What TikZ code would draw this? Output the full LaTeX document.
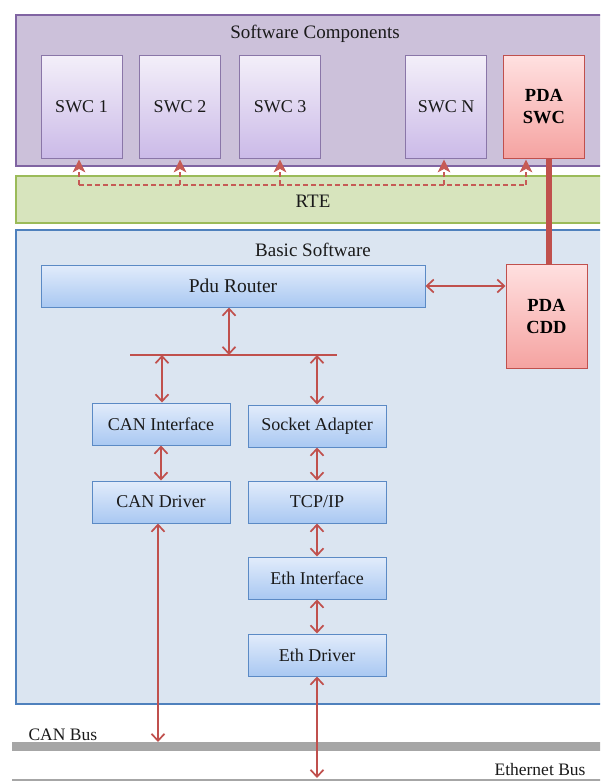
\documentclass[tikz,border=0pt]{standalone}
\usepackage{fontspec}
\setmainfont{Liberation Serif}
\usetikzlibrary{arrows.meta,shadows}

\definecolor{scfill}{HTML}{CCC1DA}
\definecolor{scline}{HTML}{8064A2}
\definecolor{swctop}{HTML}{F3EFF9}
\definecolor{swcbot}{HTML}{CBBAE8}
\definecolor{swcline}{HTML}{8A76A8}
\definecolor{rtefill}{HTML}{D7E4BD}
\definecolor{rteline}{HTML}{9BBB59}
\definecolor{bswfill}{HTML}{DBE5F1}
\definecolor{bswline}{HTML}{4F81BD}
\definecolor{boxtop}{HTML}{E2ECFB}
\definecolor{boxbot}{HTML}{A9C8F2}
\definecolor{boxline}{HTML}{5B8AC5}
\definecolor{pdatop}{HTML}{FFE0E0}
\definecolor{pdabot}{HTML}{F5A3A1}
\definecolor{pdaline}{HTML}{C0504D}
\definecolor{arrowred}{HTML}{C0504D}
\definecolor{dashred}{HTML}{C65B56}
\definecolor{busgray}{HTML}{A6A6A6}
\definecolor{textdark}{HTML}{1A1A1A}

\tikzset{
  txt/.style={font=\fontsize{18}{21}\selectfont, text=textdark},
  headtxt/.style={font=\fontsize{19}{22}\selectfont, text=textdark},
  layer/.style={draw, line width=1.6pt, inner sep=0pt},
  swcbox/.style={draw=swcline, line width=1pt, top color=swctop, bottom color=swcbot,
    minimum width=81pt, minimum height=102pt, inner sep=0pt, txt},
  pdabox/.style={draw=pdaline, line width=1pt, top color=pdatop, bottom color=pdabot,
    minimum width=81pt, inner sep=0pt, align=center,
    font=\fontsize{18.5}{21}\selectfont\bfseries, text=black},
  bswbox/.style={draw=boxline, line width=1pt, top color=boxtop, bottom color=boxbot,
    minimum width=138pt, minimum height=42pt, inner sep=0pt, txt,
    drop shadow={shadow xshift=1.2pt, shadow yshift=-1.2pt, opacity=0.35}},
  biarrow/.style={draw=arrowred, line width=1.7pt,
    {Straight Barb[length=7pt,width=13pt,line width=1.7pt]}-{Straight Barb[length=7pt,width=13pt,line width=1.7pt]}},
  dashline/.style={draw=dashred, line width=2pt, dash pattern=on 5pt off 3pt},
  dashhead/.style={fill=dashred, draw=dashred, line width=0.8pt, line join=miter},
}

\begin{document}
\begin{tikzpicture}[x=1pt,y=-1pt]
\useasboundingbox (0,0) rectangle (600,781);
\clip (0,0) rectangle (600,781);
\fill[white] (0,0) rectangle (600,781);

% ---- layers ----
\node[layer, draw=scline, fill=scfill, anchor=north west, minimum width=600pt, minimum height=151pt] (sc) at (15,14) {};
\node[layer, draw=rteline, fill=rtefill, anchor=north west, minimum width=600pt, minimum height=47pt] (rte) at (15,175) {};
\node[layer, draw=bswline, fill=bswfill, anchor=north west, minimum width=600pt, minimum height=474pt] (bsw) at (15,229) {};

\node[headtxt] (sctitle) at (315,34) {Software Components};
\node[headtxt] (rtetitle) at (313,201) {RTE};
\node[headtxt] (bswtitle) at (313,250) {Basic Software};

% ---- software components ----
\node[swcbox] (swc1) at (81.5,107) {SWC 1};
\node[swcbox] (swc2) at (180,107) {SWC 2};
\node[swcbox] (swc3) at (280,107) {SWC 3};
\node[swcbox] (swcn) at (446,107) {SWC N};
\node[pdabox, minimum height=102pt] (pdaswc) at (544,107) {PDA\\[1pt]SWC};

% ---- RTE dashed connections ----
\coordinate (d1) at (79,185);
\coordinate (d2) at (180,185);
\coordinate (d3) at (280,185);
\coordinate (dn) at (444,185);
\coordinate (dp) at (526,185);
\draw[dashline] (d1) -- (dp);
\foreach \c/\t in {d1/swc1, d2/swc2, d3/swc3, dn/swcn, dp/pdaswc}{
  \draw[dashline] (\c) -- ([yshift=-9pt]\c |- \t.south);
  \filldraw[dashhead] ([shift={(-5.5,13)}]\c |- \t.south)
    -- ([shift={(0,2)}]\c |- \t.south)
    -- ([shift={(5.5,13)}]\c |- \t.south)
    -- ([shift={(0,10)}]\c |- \t.south) -- cycle;
}

% ---- basic software modules ----
\node[bswbox, minimum width=384pt, font=\fontsize{19.5}{22}\selectfont] (router) at (233,286) {Pdu Router};
\node[pdabox, minimum height=104pt] (pdacdd) at (546.5,316) {PDA\\[1pt]CDD};
\node[bswbox] (canif) at (161,424) {CAN Interface};
\node[bswbox] (sockad) at (317,426) {Socket Adapter};
\node[bswbox] (candrv) at (161,502) {CAN Driver};
\node[bswbox] (tcpip) at (317,502) {TCP/IP};
\node[bswbox] (ethif) at (317,578) {Eth Interface};
\node[bswbox] (ethdrv) at (317,655) {Eth Driver};

% PDA SWC to PDA CDD link
\draw[arrowred, line width=6pt] ([xshift=5pt]pdaswc.south) -- ([xshift=5pt]pdaswc.south |- pdacdd.north);

% router distribution bar
\coordinate (barl) at (130,355);
\coordinate (barr) at (337,355);
\coordinate (barc) at (229,355);
\coordinate (barcan) at (162,355);
\coordinate (bareth) at (317,355);
\draw[arrowred, line width=1.7pt] (barl) -- (barr);

\draw[biarrow] (barc |- router.south) -- (barc);
\draw[biarrow] (router.east) -- (pdacdd.west |- router.east);
\draw[biarrow] (barcan) -- (barcan |- canif.north);
\draw[biarrow] (bareth) -- (bareth |- sockad.north);
\draw[biarrow] (canif.south) -- (candrv.north);
\draw[biarrow] (sockad.south) -- (tcpip.north);
\draw[biarrow] (tcpip.south) -- (ethif.north);
\draw[biarrow] (ethif.south) -- (ethdrv.north);

% ---- buses ----
\node[fill=busgray, inner sep=0pt, anchor=north west, minimum width=600pt, minimum height=9pt] (canbus) at (12,742) {};
\node[fill=busgray, inner sep=0pt, anchor=north west, minimum width=600pt, minimum height=2pt] (ethbus) at (12,779) {};
\node[txt, anchor=base west, font=\fontsize{17.5}{20}\selectfont] (canlbl) at (25,740) {CAN Bus};
\node[txt, anchor=base east, font=\fontsize{17.5}{20}\selectfont] (ethlbl) at (589,775) {Ethernet Bus};

\draw[biarrow] ([xshift=-3pt]candrv.south) -- ([xshift=-3pt]candrv.south |- canbus.north);
\draw[biarrow] (ethdrv.south) -- ([yshift=1pt]ethdrv.south |- ethbus.north);
\end{tikzpicture}
\end{document}
